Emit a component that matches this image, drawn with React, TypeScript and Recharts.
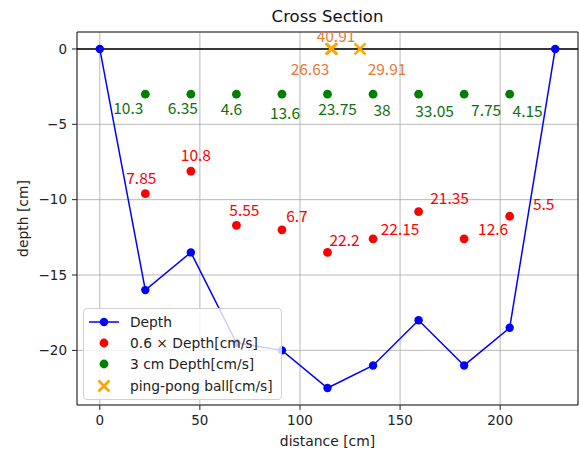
import React from 'react';
import {
  ComposedChart,
  Line,
  Scatter,
  XAxis,
  YAxis,
  CartesianGrid,
  ReferenceLine,
  ReferenceArea,
  Label,
} from 'recharts';

// ---- data ----
const depthX = [0, 22.75, 45.5, 68.25, 91, 113.75, 136.5, 159.25, 182, 204.75, 227.5];
const depthY = [0, -16, -13.5, -19.5, -20, -22.5, -21, -18, -21, -18.5, 0];

const pointX = [22.75, 45.5, 68.25, 91, 113.75, 136.5, 159.25, 182, 204.75];
const redY = [-9.6, -8.1, -11.7, -12, -13.5, -12.6, -10.8, -12.6, -11.1];
const redLabels = ['7.85', '10.8', '5.55', '6.7', '22.2', '22.15', '21.35', '12.6', '5.5'];
const greenY = [-3, -3, -3, -3, -3, -3, -3, -3, -3];
const greenLabels = ['10.3', '6.35', '4.6', '13.6', '23.75', '38', '33.05', '7.75', '4.15'];
const ballX = [115.5, 116, 130];
const ballY = [0, 0, 0];
const ballLabels = ['40.91', '26.63', '29.91'];

const xTicks = [0, 50, 100, 150, 200];
const yTicks = [-20, -15, -10, -5, 0];

// label placement (pixel offsets from the marker)
const redOffsets = [
  [-4, -17], [5, -17], [8, -16], [15, -15], [17, -13], [27, -11], [31, -15], [29, -11], [34, -13],
];
const greenOffsets = [
  [-17, 13], [-8, 13], [-5, 14], [3, 18], [10, 14], [9, 15], [16, 16], [22, 15], [18, 16],
];
const ballOffsets = [
  [5, -14], [-22, 19], [27, 19],
];

const X_DOMAIN: [number, number] = [-11.375, 238.875];
const Y_DOMAIN: [number, number] = [-23.625, 1.125];

const depthData = depthX.map((x, i) => ({ x, y: depthY[i] }));
const redData = pointX.map((x, i) => ({ x, y: redY[i], label: redLabels[i], i }));
const greenData = pointX.map((x, i) => ({ x, y: greenY[i], label: greenLabels[i], i }));
const ballData = ballX.map((x, i) => ({ x, y: ballY[i], label: ballLabels[i], i }));

const ANN_FONT = '"Noto Sans CJK JP", "Noto Sans", sans-serif';
const BASE_FONT = '"DejaVu Sans", sans-serif';

const minus = (v: number) => String(v).replace('-', '\u2212');

const makeDot = (color: string, textColor: string, offsets: number[][]) => (props: any) => {
  const { cx, cy, payload } = props;
  const off = offsets[payload.i] || [0, 0];
  return (
    <g>
      <circle cx={cx} cy={cy} r={4.4} fill={color} />
      <text
        x={cx + off[0]}
        y={cy + off[1]}
        textAnchor="middle"
        dominantBaseline="central"
        fontFamily={ANN_FONT}
        fontSize={15.5}
        fill={textColor}
      >
        {payload.label}
      </text>
    </g>
  );
};

const ballShape = (props: any) => {
  const { cx, cy, payload } = props;
  const off = ballOffsets[payload.i] || [0, 0];
  const s = 5.5;
  return (
    <g>
      <line x1={cx - s} y1={cy - s} x2={cx + s} y2={cy + s} stroke="#ffa500" strokeWidth={2.6} />
      <line x1={cx - s} y1={cy + s} x2={cx + s} y2={cy - s} stroke="#ffa500" strokeWidth={2.6} />
      <text
        x={cx + off[0]}
        y={cy + off[1]}
        textAnchor="middle"
        dominantBaseline="central"
        fontFamily={ANN_FONT}
        fontSize={15.5}
        fill="#e8773a"
      >
        {payload.label}
      </text>
    </g>
  );
};

const legendItems = [
  { name: 'Depth', kind: 'line', color: '#0000ff' },
  { name: '0.6 \u00d7 Depth[cm/s]', kind: 'dot', color: '#ff0000' },
  { name: '3 cm Depth[cm/s]', kind: 'dot', color: '#008000' },
  { name: 'ping-pong ball[cm/s]', kind: 'x', color: '#ffa500' },
];

const LegendBox = () => (
  <div
    style={{
      position: 'absolute',
      left: 83,
      top: 308,
      background: 'rgba(255,255,255,0.8)',
      border: '1px solid #d0d0d0',
      borderRadius: 4,
      padding: '2px 8px 2px 4px',
      fontFamily: BASE_FONT,
      fontSize: 13.8,
      color: '#222',
    }}
  >
    {legendItems.map((it) => (
      <div key={it.name} style={{ display: 'flex', alignItems: 'center', height: 21.4 }}>
        <svg width={42} height={16} style={{ flex: 'none' }}>
          {it.kind === 'line' && (
            <>
              <line x1={1} y1={8} x2={31} y2={8} stroke={it.color} strokeWidth={1.5} />
              <circle cx={16} cy={8} r={4.2} fill={it.color} />
            </>
          )}
          {it.kind === 'dot' && <circle cx={16} cy={8} r={4.4} fill={it.color} />}
          {it.kind === 'x' && (
            <>
              <line x1={10.5} y1={2.5} x2={21.5} y2={13.5} stroke={it.color} strokeWidth={2.6} />
              <line x1={10.5} y1={13.5} x2={21.5} y2={2.5} stroke={it.color} strokeWidth={2.6} />
            </>
          )}
        </svg>
        <span style={{ whiteSpace: 'nowrap' }}>{it.name}</span>
      </div>
    ))}
  </div>
);

export default function App() {
  return (
    <div style={{ position: 'absolute', left: 0, top: 0, width: 579, height: 450, background: '#fff' }}>
      <div
        style={{
          position: 'absolute',
          left: 77,
          width: 501,
          top: 6,
          textAlign: 'center',
          fontFamily: BASE_FONT,
          fontSize: 16.5,
          color: '#111',
          lineHeight: '22px',
        }}
      >
        Cross Section
      </div>
      <ComposedChart
        width={579}
        height={450}
        margin={{ top: 32, right: 1, bottom: 0, left: 0 }}
      >
        <CartesianGrid stroke="#b0b0b0" strokeWidth={0.9} />
        <XAxis
          type="number"
          dataKey="x"
          domain={X_DOMAIN}
          ticks={xTicks}
          allowDataOverflow
          height={45}
          axisLine={false}
          tickLine={{ stroke: '#222' }}
          tickSize={5}
          tickMargin={5}
          tick={{ fill: '#222', fontFamily: BASE_FONT, fontSize: 13.5 }}
        >
          <Label
            content={({ viewBox }: any) => (
              <text
                x={viewBox.x + viewBox.width / 2}
                y={441}
                textAnchor="middle"
                dominantBaseline="central"
                fontFamily={BASE_FONT}
                fontSize={13.9}
                fill="#222"
              >
                distance [cm]
              </text>
            )}
          />
        </XAxis>
        <YAxis
          type="number"
          dataKey="y"
          domain={Y_DOMAIN}
          ticks={yTicks}
          allowDataOverflow
          width={77}
          axisLine={false}
          tickLine={{ stroke: '#222' }}
          tickSize={5}
          tickMargin={5}
          tickFormatter={minus}
          tick={{ fill: '#222', fontFamily: BASE_FONT, fontSize: 13.5 }}
        >
          <Label
            content={({ viewBox }: any) => (
              <text
                x={23}
                y={viewBox.y + viewBox.height / 2}
                textAnchor="middle"
                dominantBaseline="central"
                fontFamily={BASE_FONT}
                fontSize={13.9}
                fill="#222"
                transform={`rotate(-90 23 ${viewBox.y + viewBox.height / 2})`}
              >
                depth [cm]
              </text>
            )}
          />
        </YAxis>
        <ReferenceLine y={0} stroke="#000" strokeWidth={1.6} />
        <Line
          data={depthData}
          dataKey="y"
          stroke="#0000ff"
          strokeWidth={1.5}
          dot={{ r: 4.2, fill: '#0000ff', stroke: '#0000ff', strokeWidth: 0 }}
          activeDot={false}
          isAnimationActive={false}
          legendType="none"
        />
        <Scatter
          data={redData}
          dataKey="y"
          shape={makeDot('#ff0000', '#ff0000', redOffsets)}
          isAnimationActive={false}
        />
        <Scatter
          data={greenData}
          dataKey="y"
          shape={makeDot('#008000', '#107010', greenOffsets)}
          isAnimationActive={false}
        />
        <Scatter data={ballData} dataKey="y" shape={ballShape} isAnimationActive={false} />
        <ReferenceArea
          x1={X_DOMAIN[0]}
          x2={X_DOMAIN[1]}
          y1={Y_DOMAIN[0]}
          y2={Y_DOMAIN[1]}
          fill="none"
          fillOpacity={0}
          stroke="#222"
          strokeWidth={1}
        />
      </ComposedChart>
      <LegendBox />
    </div>
  );
}
